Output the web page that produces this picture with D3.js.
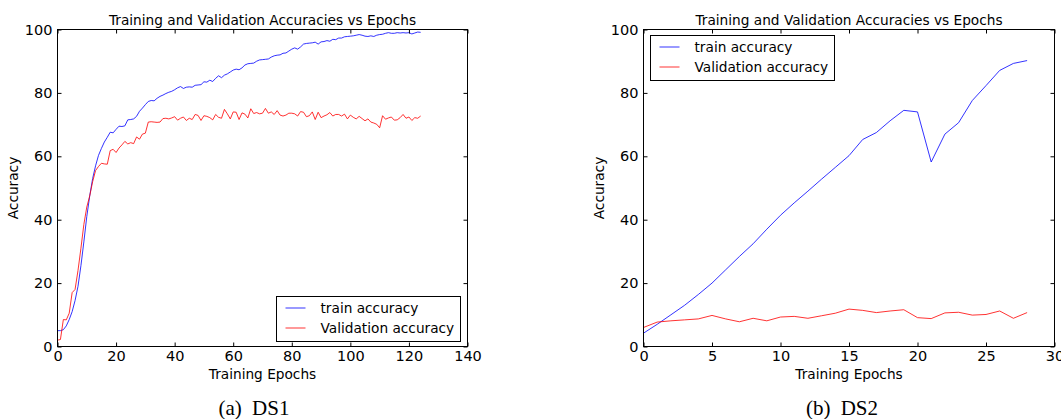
<!DOCTYPE html>
<html>
<head>
<meta charset="utf-8">
<script src="https://cdn.jsdelivr.net/npm/d3@7"></script>
<style>
  body { margin: 0; background: #fff; }
  svg { display: block; }
  text { font-family: "DejaVu Sans", sans-serif; fill: #000; }
</style>
</head>
<body>
<svg id="chart" width="1061" height="419"></svg>
<script>
// ---------- DATA ----------
const ds1Train = [
  5.0, 5.0, 5.3, 6.5, 8.5, 11.0, 14.5, 19.0, 25.5, 33.0,
  41.0, 47.5, 53.0, 57.0, 60.3, 62.5, 64.5, 66.0, 67.6, 67.4,
  68.5, 69.5, 69.4, 69.6, 71.5, 71.6, 71.8, 72.6, 74.2, 75.2,
  76.3, 77.3, 77.6, 77.5, 78.3, 78.9, 79.3, 79.8, 80.2, 80.5,
  81.0, 81.6, 82.0, 81.4, 81.8, 81.9, 81.8, 82.4, 82.5, 82.6,
  83.5, 83.4, 84.0, 83.6, 84.6, 85.4, 84.8, 85.6, 86.0, 86.6,
  87.2, 87.5, 87.3, 87.9, 88.8, 89.2, 89.3, 89.4, 90.0, 90.4,
  90.5, 90.6, 90.7, 91.3, 91.7, 91.9, 92.0, 92.5, 92.6, 93.2,
  93.8, 94.2, 93.8, 94.5, 95.4, 95.6, 95.7, 95.8, 96.0, 95.4,
  96.1, 96.2, 96.5, 96.3, 96.9, 96.8, 97.3, 97.3, 97.7, 97.8,
  97.9, 98.0, 98.2, 98.4, 98.2, 97.9, 97.8, 98.0, 97.8, 98.2,
  98.4, 98.5, 98.8, 99.0, 98.8, 98.8, 99.0, 98.9, 99.0, 98.9,
  99.0, 98.6, 98.9, 99.2, 99.1
];
const ds1Val = [
  2.0, 2.2, 8.5, 8.4, 10.5, 17.0, 18.0, 24.0, 31.0, 38.5,
  44.0, 47.5, 52.0, 55.5, 56.8, 57.8, 57.6, 57.5, 61.8, 62.2,
  61.2, 62.6, 63.6, 64.7, 63.9, 64.3, 64.0, 66.1, 65.4, 67.0,
  67.3, 70.8, 70.9, 70.8, 70.7, 70.8, 71.9, 72.0, 71.8, 72.1,
  72.5, 71.4, 72.0, 72.4, 71.3, 72.0, 71.6, 73.2, 72.9, 71.3,
  72.8, 72.6, 72.2, 71.5, 73.2, 72.3, 72.0, 74.8, 73.4, 71.8,
  74.0, 73.9, 71.6, 73.7, 73.3, 72.1, 75.0, 73.5, 73.8, 73.4,
  73.6, 75.1, 73.6, 74.0, 73.2, 74.4, 73.0, 72.7, 73.0, 73.6,
  73.6, 73.4, 72.7, 74.1, 73.9, 72.5, 72.8, 74.0, 71.6, 73.9,
  72.2, 72.7, 73.1, 73.8, 72.7, 73.2, 73.2, 72.7, 73.3, 71.8,
  73.0, 72.3, 71.8, 72.6, 71.9, 71.2, 71.8, 70.8, 70.5, 70.1,
  69.0, 72.8, 71.7, 72.1, 72.4, 71.4, 71.5, 72.2, 73.2, 72.0,
  72.4, 71.3, 72.2, 72.0, 72.7
];
const ds2Train = [
  4.2, 7.0, 10.0, 13.0, 16.4, 20.0, 24.2, 28.4, 32.4, 37.0,
  41.4, 45.3, 49.0, 52.8, 56.5, 60.2, 65.3, 67.5, 71.2, 74.5,
  74.0, 58.2, 67.0, 70.6, 77.6, 82.3, 87.1, 89.3, 90.2
];
const ds2Val = [
  6.0, 7.7, 8.1, 8.4, 8.7, 9.8, 8.7, 7.8, 8.9, 8.1,
  9.3, 9.5, 8.9, 9.7, 10.5, 11.8, 11.4, 10.7, 11.2, 11.6,
  9.1, 8.8, 10.6, 10.8, 9.9, 10.1, 11.2, 8.9, 10.7
];
const xTicks1 = [0, 20, 40, 60, 80, 100, 120, 140];
const xTicks2 = [0, 5, 10, 15, 20, 25, 30];
const yTicks = [0, 20, 40, 60, 80, 100];
const seriesNames = ["train accuracy", "Validation accuracy"];
const seriesColors = ["#0000ff", "#ff0000"];
const titleText = "Training and Validation Accuracies vs Epochs";
const xLabel = "Training Epochs";
const yLabel = "Accuracy";
const captions = ["(a) DS1", "(b) DS2"];

// ---------- DRAW ----------
const svg = d3.select("#chart");

function panel(cfg) {
  const { left, right, top, bottom, xMax, xTicks, train, val, legend, caption } = cfg;
  const x = d3.scaleLinear().domain([0, xMax]).range([left, right]);
  const y = d3.scaleLinear().domain([0, 100]).range([bottom, top]);
  const g = svg.append("g");

  const line = d3.line().x((d, i) => x(i)).y(d => y(d));
  [train, val].forEach((s, k) => {
    g.append("path").datum(s)
      .attr("fill", "none")
      .attr("stroke", seriesColors[k])
      .attr("stroke-width", 1)
      .attr("stroke-opacity", 0.8)
      .attr("d", line);
  });

  const fmt = d3.format("d");
  const ax = (sel) => sel.call(s => s.select(".domain").remove())
    .call(s => s.selectAll("line").attr("stroke", "#000"))
    .call(s => s.selectAll("text").attr("font-size", 14.5).attr("font-family", "DejaVu Sans").attr("fill", "#000"));

  g.append("g").attr("transform", `translate(0,${bottom})`)
    .call(d3.axisBottom(x).tickValues(xTicks).tickFormat(fmt).tickSize(-4).tickPadding(4)).call(ax);
  g.append("g").attr("transform", `translate(0,${top})`)
    .call(d3.axisTop(x).tickValues(xTicks).tickFormat("").tickSize(-4)).call(ax);
  g.append("g").attr("transform", `translate(${left},0)`)
    .call(d3.axisLeft(y).tickValues(yTicks).tickFormat(fmt).tickSize(-4).tickPadding(5)).call(ax);
  g.append("g").attr("transform", `translate(${right},0)`)
    .call(d3.axisRight(y).tickValues(yTicks).tickFormat("").tickSize(-4)).call(ax);

  g.append("rect")
    .attr("x", left).attr("y", top)
    .attr("width", right - left).attr("height", bottom - top)
    .attr("fill", "none").attr("stroke", "#000").attr("stroke-width", 1);

  g.append("text").attr("x", (left + right) / 2).attr("y", top - 5)
    .attr("text-anchor", "middle").attr("font-size", 13.7).text(titleText);
  g.append("text").attr("x", (left + right) / 2).attr("y", bottom + 32)
    .attr("text-anchor", "middle").attr("font-size", 13.7).text(xLabel);
  g.append("text")
    .attr("transform", `translate(${left - 40},${(top + bottom) / 2}) rotate(-90)`)
    .attr("text-anchor", "middle").attr("font-size", 13.7).text(yLabel);

  // legend
  const lg = g.append("g").attr("transform", `translate(${legend.x},${legend.y})`);
  lg.append("rect").attr("width", 184).attr("height", 45)
    .attr("fill", "#fff").attr("stroke", "#000").attr("stroke-width", 1);
  seriesNames.forEach((n, k) => {
    const yy = 11.5 + k * 20;
    lg.append("line").attr("x1", 9).attr("x2", 29).attr("y1", yy).attr("y2", yy)
      .attr("stroke", seriesColors[k]).attr("stroke-opacity", 0.8);
    lg.append("text").attr("x", 44).attr("y", yy + 5).attr("font-size", 13.7).text(n);
  });

  svg.append("text").attr("x", caption.x).attr("y", 415)
    .attr("text-anchor", "middle")
    .attr("font-size", 21)
    .attr("word-spacing", 5)
    .style("font-family", "'Liberation Serif', serif")
    .text(caption.text);
}

panel({ left: 57.5, right: 467.5, top: 29.5, bottom: 346.5, xMax: 140, xTicks: xTicks1,
  train: ds1Train, val: ds1Val, legend: { x: 276.5, y: 296.5 }, caption: { x: 254, text: captions[0] } });
panel({ left: 643.5, right: 1054.5, top: 29.5, bottom: 346.5, xMax: 30, xTicks: xTicks2,
  train: ds2Train, val: ds2Val, legend: { x: 650.5, y: 35.5 }, caption: { x: 842, text: captions[1] } });
</script>
</body>
</html>
